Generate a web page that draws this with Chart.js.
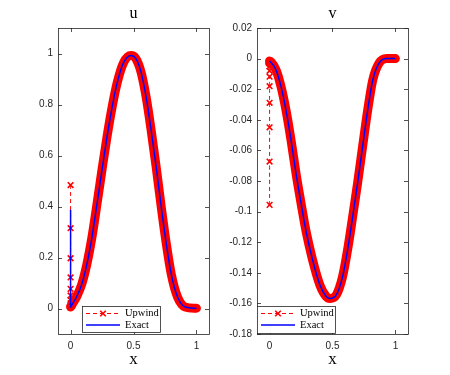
<!DOCTYPE html>
<html>
<head>
<meta charset="utf-8">
<script src="https://cdn.jsdelivr.net/npm/chart.js@4.4.1/dist/chart.umd.min.js"></script>
<style>
  html, body { margin: 0; padding: 0; background: #fff; }
  #wrap { position: relative; width: 450px; height: 375px; }
  canvas { position: absolute; top: 0; }
</style>
</head>
<body>
<div id="wrap">
  <canvas id="uChart" width="225" height="375" style="left:0"></canvas>
  <canvas id="vChart" width="225" height="375" style="left:225px"></canvas>
</div>
<script>
  // values
  const xTicks = [0, 0.5, 1];
  const uTicks = [0, 0.2, 0.4, 0.6, 0.8, 1];
  const vTicks = [0.02, 0, -0.02, -0.04, -0.06, -0.08, -0.1, -0.12, -0.14, -0.16, -0.18];

  // u: points stacked at x = 0, then the curve
  const uColumnUpwind = [0.484, 0.315, 0.197, 0.122, 0.077, 0.051, 0.033, 0.021, 0.013, 0.008];
  const uColumnExact = [0.387];
  const uCurveX = [0, 0.015, 0.05, 0.09, 0.13, 0.17, 0.21, 0.25, 0.29, 0.33, 0.37, 0.42, 0.48,
                   0.52, 0.56, 0.6, 0.64, 0.68, 0.72, 0.76, 0.8, 0.85, 0.91, 1.0];
  const uCurve = [0.006, 0.018, 0.048, 0.097, 0.175, 0.28, 0.41, 0.545, 0.675, 0.79, 0.885, 0.963, 0.992,
                  0.979, 0.927, 0.83, 0.7, 0.555, 0.4, 0.256, 0.135, 0.045, 0.006, 0.001];

  // v
  const vColumnUpwind = [-0.0956, -0.0673, -0.0449, -0.0289, -0.0180, -0.0118, -0.0080, -0.0052, -0.003];
  const vColumnExact = [];
  const vCurveX = [0, 0.05, 0.09, 0.13, 0.17, 0.21, 0.25, 0.29, 0.34, 0.4, 0.45, 0.48,
                   0.53, 0.58, 0.62, 0.66, 0.7, 0.74, 0.78, 0.82, 0.87, 0.93, 1.0];
  const vCurve = [-0.0015, -0.0072, -0.018, -0.0335, -0.053, -0.075, -0.0945, -0.113, -0.131, -0.148, -0.1555, -0.1568,
                  -0.1545, -0.1425, -0.125, -0.1035, -0.081, -0.057, -0.0335, -0.014, -0.003, 0, 0];

  const RED = '#ff0000';
  const BLUE = '#0000ff';
  const AXIS = '#262626';
  const SERIF = '"Liberation Serif", "Times New Roman", serif';
  const SANS = '"Liberation Sans", Arial, sans-serif';

  function toPoints(column, xs, ys) {
    const pts = column.map(y => ({ x: 0, y: y }));
    xs.forEach((x, i) => pts.push({ x: x, y: ys[i] }));
    return pts;
  }

  function fmt(v) {
    return String(Math.round(v * 100) / 100);
  }

  // box, inward ticks, title, x label and the legend, MATLAB style
  const framePlugin = {
    id: 'frame',
    afterDatasetsDraw(chart, args, opts) {
      const { ctx, chartArea: a, scales } = chart;
      ctx.save();
      ctx.strokeStyle = AXIS;
      ctx.lineWidth = 0.8;
      ctx.strokeRect(a.left + 0.5, a.top + 0.5, a.right - a.left, a.bottom - a.top);

      ctx.beginPath();
      scales.x.ticks.forEach(t => {
        const px = Math.round(scales.x.getPixelForValue(t.value)) + 0.5;
        ctx.moveTo(px, a.bottom); ctx.lineTo(px, a.bottom - 4);
        ctx.moveTo(px, a.top); ctx.lineTo(px, a.top + 4);
      });
      scales.y.ticks.forEach(t => {
        const py = Math.round(scales.y.getPixelForValue(t.value)) + 0.5;
        ctx.moveTo(a.left, py); ctx.lineTo(a.left + 4, py);
        ctx.moveTo(a.right, py); ctx.lineTo(a.right - 4, py);
      });
      ctx.stroke();

      const cx = (a.left + a.right) / 2;
      ctx.fillStyle = '#000';
      ctx.textAlign = 'center';
      ctx.textBaseline = 'middle';
      ctx.font = '16px ' + SERIF;
      ctx.fillText(opts.title, cx, 14);
      ctx.font = '17px ' + SERIF;
      ctx.fillText('x', cx, 360);

      // legend
      const L = opts.legend;
      ctx.fillStyle = '#fff';
      ctx.fillRect(L.x, L.y, L.w, L.h);
      ctx.strokeStyle = AXIS;
      ctx.lineWidth = 0.8;
      ctx.strokeRect(L.x + 0.5, L.y + 0.5, L.w, L.h);

      const y1 = L.y + 7.5, y2 = L.y + 19;
      ctx.strokeStyle = RED;
      ctx.lineWidth = 1;
      ctx.setLineDash([4, 3]);
      ctx.beginPath();
      ctx.moveTo(L.x + 4, y1); ctx.lineTo(L.x + 38, y1);
      ctx.stroke();
      ctx.setLineDash([]);
      ctx.lineWidth = 1.6;
      const mx = L.x + 21, r = 2.8;
      ctx.beginPath();
      ctx.moveTo(mx - r, y1 - r); ctx.lineTo(mx + r, y1 + r);
      ctx.moveTo(mx - r, y1 + r); ctx.lineTo(mx + r, y1 - r);
      ctx.stroke();

      ctx.strokeStyle = BLUE;
      ctx.lineWidth = 1.5;
      ctx.beginPath();
      ctx.moveTo(L.x + 4, y2); ctx.lineTo(L.x + 38, y2);
      ctx.stroke();

      ctx.fillStyle = '#000';
      ctx.textAlign = 'left';
      ctx.font = '10.5px ' + SERIF;
      ctx.fillText('Upwind', L.x + 43, y1);
      ctx.fillText('Exact', L.x + 43, y2);
      ctx.restore();
    }
  };

  function makeChart(id, cfg) {
    const colLen = cfg.column.length;
    const isColumn = c => c.p0DataIndex < colLen && c.p1DataIndex < colLen;
    return new Chart(document.getElementById(id), {
      type: 'line',
      data: {
        datasets: [
          {
            label: 'Exact',
            data: toPoints(cfg.exactColumn, cfg.xs, cfg.ys),
            borderColor: BLUE,
            borderWidth: 1.5,
            pointRadius: 0,
            cubicInterpolationMode: 'monotone'
          },
          {
            label: 'Upwind',
            data: toPoints(cfg.column, cfg.xs, cfg.ys),
            borderColor: RED,
            backgroundColor: RED,
            borderWidth: 1,
            cubicInterpolationMode: 'monotone',
            borderJoinStyle: 'round',
            pointStyle: 'crossRot',
            pointRadius: c => (c.dataIndex < colLen ? 4 : 0),
            pointBorderColor: RED,
            pointBorderWidth: 1.6,
            segment: {
              borderWidth: c => (isColumn(c) ? 1 : 9),
              borderDash: c => (isColumn(c) ? [4, 3] : []),
              borderCapStyle: c => (isColumn(c) ? 'butt' : 'round')
            }
          }
        ]
      },
      options: {
        responsive: false,
        animation: false,
        layout: { padding: { top: 28, right: cfg.padRight, left: 0, bottom: 0 } },
        plugins: {
          legend: { display: false },
          tooltip: { enabled: false },
          frame: { title: cfg.title, legend: cfg.legend }
        },
        scales: {
          x: {
            type: 'linear',
            min: -0.1,
            max: 1.1,
            grid: { display: false, drawTicks: false },
            border: { display: false },
            afterBuildTicks: s => { s.ticks = xTicks.map(v => ({ value: v })); },
            afterFit: s => { s.height = 41; },
            ticks: { font: { family: SANS, size: 10 }, color: AXIS, padding: 6, maxRotation: 0, autoSkip: false, callback: v => fmt(v) }
          },
          y: {
            type: 'linear',
            min: cfg.yMin,
            max: cfg.yMax,
            grid: { display: false, drawTicks: false },
            border: { display: false },
            afterBuildTicks: s => { s.ticks = cfg.yTicks.map(v => ({ value: v })); },
            afterFit: s => { s.width = cfg.yWidth; },
            ticks: { font: { family: SANS, size: 10 }, color: AXIS, padding: 5, autoSkip: false, callback: v => fmt(v) }
          }
        }
      },
      plugins: [framePlugin]
    });
  }

  makeChart('uChart', {
    title: 'u',
    column: uColumnUpwind, exactColumn: uColumnExact, xs: uCurveX, ys: uCurve,
    yMin: -0.1, yMax: 1.1, yTicks: uTicks,
    yWidth: 58, padRight: 16,
    legend: { x: 82, y: 306, w: 78, h: 26 }
  });

  makeChart('vChart', {
    title: 'v',
    column: vColumnUpwind, exactColumn: vColumnExact, xs: vCurveX, ys: vCurve,
    yMin: -0.18, yMax: 0.02, yTicks: vTicks,
    yWidth: 32, padRight: 42,
    legend: { x: 32, y: 306, w: 78, h: 27 }
  });
</script>
</body>
</html>
